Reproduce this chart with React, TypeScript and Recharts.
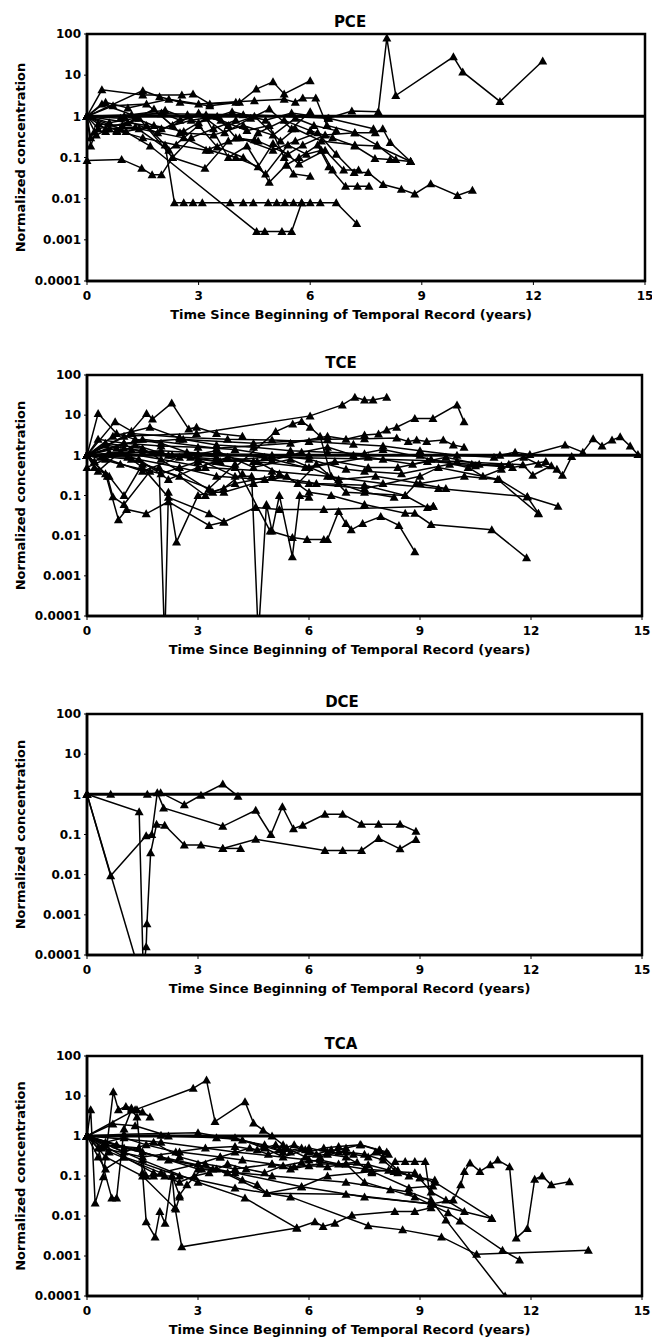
import React from "react";
import { LineChart, Line, XAxis, YAxis, ReferenceLine, ReferenceArea, Label } from "recharts";

type Pt = [number, number];

const xTicks = [0, 3, 6, 9, 12, 15];
const yTicks = [0.0001, 0.001, 0.01, 0.1, 1, 10, 100];
const xTitle = "Time Since Beginning of Temporal Record (years)";
const yTitle = "Normalized concentration";

// each record: [years since first sample, concentration / first concentration]
const pce: Pt[][] = [
  [[0, 1], [0.4, 4.4], [1.5, 3.3], [2.55, 3.3], [2.85, 3.5], [3.3, 2.0], [4.0, 2.2]],
  [[0, 1], [2.0, 1.15], [4.2, 1.1], [6.48, 0.9], [7.12, 1.35], [7.83, 1.3], [8.06, 80], [8.3, 3.2], [9.85, 28], [10.1, 12], [11.1, 2.3], [12.25, 22]],
  [[0, 1], [1.5, 4.2], [1.95, 3.0], [2.5, 2.2], [3.3, 1.8], [4.1, 2.2], [4.55, 4.6], [5.0, 6.9], [5.3, 3.5], [6.0, 7.3]],
  [[0, 1], [0.5, 2.2], [1.1, 1.6], [2.2, 2.6], [3.0, 2.0], [4.5, 2.4], [5.3, 2.6], [5.6, 2.2], [5.8, 2.8], [6.15, 2.8], [6.45, 0.6], [7.2, 0.4], [7.75, 0.4], [7.95, 0.5], [8.15, 0.23], [8.7, 0.08]],
  [[0, 1], [0.8, 0.45], [1.5, 0.3], [2.4, 0.2], [3.2, 0.15], [4.1, 0.3], [5.0, 0.15], [5.6, 0.25], [6.2, 0.4], [6.7, 0.12], [7.18, 0.043], [7.56, 0.043], [7.96, 0.022], [8.45, 0.017], [8.81, 0.013], [9.24, 0.023], [9.96, 0.012], [10.36, 0.016]],
  [[0, 1], [1.6, 0.6], [2.1, 0.2], [2.35, 0.008], [2.6, 0.008], [2.85, 0.008], [3.1, 0.008], [3.85, 0.008], [4.2, 0.008], [4.47, 0.008], [4.87, 0.008], [5.1, 0.008], [5.32, 0.008], [5.55, 0.008], [5.77, 0.008], [6.0, 0.008], [6.27, 0.008], [6.7, 0.008], [7.25, 0.0025]],
  [[0, 1], [0.9, 0.5], [1.7, 0.19], [4.56, 0.0016], [4.78, 0.0016], [5.24, 0.0016], [5.5, 0.0016], [5.77, 0.008]],
  [[0, 0.085], [0.93, 0.09], [1.47, 0.055], [1.75, 0.038], [2.0, 0.038], [2.3, 0.1], [2.8, 0.3], [3.4, 0.5], [4.0, 0.8]],
  [[0, 1], [0.1, 0.3], [0.2, 0.43], [0.5, 0.43], [0.8, 0.43], [1.05, 0.43], [1.8, 0.6], [2.6, 0.43], [3.2, 0.9], [3.8, 0.1], [4.3, 0.19], [4.9, 0.025], [5.35, 0.065], [5.7, 0.1], [6.2, 0.2], [6.5, 0.06], [6.95, 0.02], [7.27, 0.02], [7.58, 0.02]],
  [[0, 1], [0.1, 0.19], [0.3, 0.65], [0.95, 0.6], [1.4, 0.9], [2.3, 0.1], [3.17, 0.055], [3.8, 0.25], [4.5, 0.27], [4.6, 0.4], [5.3, 0.8], [6.0, 0.45], [6.6, 0.3], [7.2, 0.19], [7.74, 0.095], [8.15, 0.09], [8.7, 0.08]],
  [[0, 1], [0.6, 0.7], [1.3, 0.9], [2.0, 0.5], [2.8, 0.8], [3.5, 1.0], [4.0, 0.3], [4.6, 0.25], [5.4, 0.12], [5.8, 0.2], [6.4, 0.35], [7.2, 0.4], [7.8, 0.2], [8.3, 0.09]],
  [[0, 1], [0.5, 0.5], [1.3, 0.55], [2.2, 0.15], [3.0, 0.6], [3.5, 0.18], [4.2, 0.1], [4.8, 0.04], [5.4, 0.2], [5.9, 0.12], [6.3, 0.15], [6.6, 0.05]],
  [[0, 1], [0.25, 0.35], [0.6, 0.5], [1.4, 0.5], [2.6, 0.3], [3.3, 0.15], [4.0, 0.1], [4.6, 0.06], [5.0, 0.22], [5.7, 0.07], [6.4, 0.15], [6.9, 0.05], [7.3, 0.05]],
  [[0, 1], [1.0, 1.0], [2.0, 1.2], [2.5, 0.8], [3.2, 1.1], [3.8, 0.6], [4.5, 1.0], [5.2, 0.25], [5.6, 0.5], [6.3, 0.25], [7.2, 0.2], [7.8, 0.19], [8.7, 0.08]],
  [[0, 1], [0.7, 1.8], [1.6, 2.0], [2.3, 0.6], [3.0, 1.2], [3.7, 0.4], [4.4, 0.9], [4.9, 1.5], [5.5, 0.5], [6.0, 1.3]],
  [[0, 1], [0.3, 0.5], [1.1, 0.7], [1.8, 1.5], [2.5, 0.4], [3.4, 0.35], [4.2, 0.6], [5.0, 0.35], [5.6, 0.9], [6.1, 0.6], [6.7, 0.45]],
  [[0, 1], [0.9, 0.9], [1.9, 0.4], [2.7, 1.1], [3.6, 0.8], [4.3, 0.45], [4.9, 0.6], [5.3, 0.1], [5.55, 0.04], [6.0, 0.035]],
  [[0, 1], [0.4, 2.0], [1.2, 1.1], [2.1, 1.4], [3.0, 0.7], [3.9, 1.3], [4.8, 0.8], [5.5, 1.2], [6.5, 0.9], [7.7, 0.5]],
];

const tce: Pt[][] = [
  [[0, 1], [0.3, 11], [0.8, 3.5], [1.3, 2.5], [2.0, 2.0], [2.7, 1.2], [3.5, 0.9]],
  [[0, 1], [0.76, 6.9], [1.2, 4], [1.61, 11], [1.77, 8], [2.29, 20], [2.75, 4.5], [2.96, 5], [3.5, 3.5], [4.2, 3]],
  [[0, 1], [1.0, 3.0], [2.96, 3.5], [6.03, 9.6], [6.9, 18], [7.24, 28], [7.5, 24], [7.73, 24], [8.1, 28]],
  [[0, 1], [0.55, 0.3], [0.7, 0.093], [1.0, 0.06], [1.7, 0.4], [1.95, 0.5], [2.1, 0.00002], [2.2, 0.12], [2.42, 0.007], [3.0, 0.1], [3.7, 0.15], [4.2, 0.35]],
  [[0, 1], [0.5, 0.35], [0.85, 0.025], [1.07, 0.045], [1.6, 0.035], [2.2, 0.07], [3.3, 0.018], [3.7, 0.022], [4.55, 0.05], [5.2, 0.045], [6.4, 0.045], [9.36, 0.054]],
  [[0, 1], [0.8, 1.5], [1.5, 0.5], [2.2, 0.09], [3.3, 0.035], [3.7, 0.022]],
  [[0, 1], [1.5, 1.2], [3.0, 0.8], [4.0, 0.3], [4.45, 0.3], [4.63, 0.00003], [4.85, 0.06], [5.0, 0.013], [5.2, 0.1], [5.55, 0.003], [5.75, 0.1], [6.0, 0.09]],
  [[0, 1], [1.2, 0.8], [3.3, 0.15], [4.0, 0.6], [4.95, 0.013], [5.55, 0.009], [5.95, 0.008], [6.4, 0.008], [6.5, 0.008], [6.8, 0.04], [7.0, 0.02], [7.14, 0.014], [7.45, 0.02], [7.94, 0.03], [8.43, 0.018], [8.86, 0.004]],
  [[0, 1], [0.5, 2], [1.5, 1.5], [3.4, 0.12], [3.7, 0.12], [4.5, 0.2], [5.4, 0.3], [6.0, 0.12], [6.6, 0.1], [7.5, 0.06], [8.6, 0.036], [8.86, 0.036], [9.3, 0.019], [10.94, 0.014], [11.88, 0.0028]],
  [[0, 1], [1.1, 0.9], [2.5, 0.5], [3.5, 0.3], [4.8, 0.25], [6.0, 0.2], [7.5, 0.15], [9.0, 0.3], [9.5, 0.5], [11.14, 0.25], [11.9, 0.093], [12.73, 0.054]],
  [[0, 1], [0.9, 1.2], [2.0, 0.8], [3.2, 0.5], [5.0, 0.4], [6.5, 0.3], [8.0, 0.2], [9.5, 0.15], [11.9, 0.093], [12.2, 0.036]],
  [[0, 1], [3.0, 1.1], [6.0, 1.0], [9.0, 1.0], [11.16, 1.0], [11.57, 1.2], [11.97, 1.05], [12.92, 1.8], [13.4, 1.2], [13.68, 2.6], [13.92, 1.7], [14.19, 2.4], [14.41, 2.9], [14.68, 1.7], [14.89, 1.05]],
  [[0, 1], [2.0, 1.3], [5.0, 0.9], [8.0, 0.8], [10.0, 0.7], [11.78, 0.58], [12.05, 0.32], [12.55, 0.55], [12.85, 0.32], [13.1, 0.93]],
  [[0, 1], [1.5, 2.5], [3.5, 1.5], [5.5, 2.0], [6.5, 3], [7.0, 2.5], [7.5, 3.2], [7.88, 3.4], [8.1, 4.3], [8.37, 5], [8.86, 8.3], [9.35, 8.3], [10.0, 18], [10.19, 6.9]],
  [[0, 1], [1.0, 2.0], [2.5, 2.5], [4.5, 2.0], [6.5, 2.5], [7.5, 2.6], [8.37, 2.7], [8.68, 2.2], [8.91, 2.4], [9.18, 2.2], [9.63, 2.4], [9.9, 1.8], [10.19, 1.6]],
  [[0, 1], [0.3, 0.4], [1.0, 1.5], [2.8, 0.9], [4.5, 0.7], [6.0, 0.5], [7.6, 0.9], [8.8, 0.6], [9.7, 0.9], [10.6, 0.6], [11.2, 0.55], [11.8, 0.9], [12.2, 0.6], [12.7, 0.45]],
  [[0, 1], [0.2, 0.5], [0.6, 0.3], [1.0, 0.1], [1.5, 0.6], [2.5, 0.3], [3.2, 0.1], [4.0, 0.2], [5.0, 0.3], [6.2, 0.2], [7.5, 0.18], [8.6, 0.1], [8.9, 0.2], [9.7, 0.15]],
  [[0, 1], [0.5, 1.8], [1.2, 1.4], [2.3, 1.0], [3.6, 0.7], [5.0, 0.75], [5.8, 1.2], [6.5, 1.6], [7.2, 1.0], [8.0, 1.4], [9.3, 0.8], [10.3, 0.5], [10.7, 0.3], [11.2, 0.45]],
  [[0, 1], [0.9, 0.6], [2.0, 0.35], [3.0, 0.7], [4.0, 0.5], [5.1, 3.9], [5.56, 6], [5.8, 7], [6.03, 5], [6.3, 3], [6.6, 0.3], [7.0, 0.12], [8.6, 0.1], [9.2, 0.05], [9.36, 0.054]],
  [[0, 1], [1.2, 3.5], [2.5, 2.8], [3.8, 2.5], [5.0, 2.4], [6.0, 2.2], [7.2, 1.9], [8.0, 1.7], [9.0, 1.3], [10.0, 1.0], [11.0, 0.9]],
  [[0, 1], [0.4, 0.9], [1.5, 0.4], [2.5, 0.9], [3.5, 1.3], [4.5, 0.5], [5.5, 0.8], [6.8, 0.25], [7.8, 0.3], [9.0, 0.2], [10.2, 0.3], [11.1, 0.25], [12.2, 0.035]],
  [[0, 1], [0.7, 3.0], [1.7, 5], [2.6, 2.5], [3.5, 1.8], [4.5, 1.6], [5.5, 1.3], [6.5, 1.2], [7.5, 1.1]],
  [[0, 1], [0.2, 0.7], [0.6, 1.2], [1.4, 0.8], [2.2, 0.25], [3.0, 0.5], [3.8, 0.9], [4.6, 0.7], [5.2, 0.35], [5.7, 0.2], [6.2, 0.6], [6.8, 0.2], [7.5, 0.12], [8.3, 0.09]],
  [[0, 1], [0.3, 2.5], [1.0, 2.0], [2.0, 1.7], [3.0, 1.6], [4.0, 1.4], [5.0, 1.0], [6.0, 0.8], [7.0, 0.45], [7.5, 0.4], [8.5, 0.35], [9.8, 0.6], [10.5, 0.55], [11.4, 0.6]],
  [[0, 0.5], [0.5, 0.8], [1.3, 1.8], [2.2, 1.0], [3.5, 0.7], [4.8, 0.9], [5.9, 0.5], [6.7, 0.7], [7.6, 0.5], [8.4, 0.5], [9.2, 0.7], [10.4, 0.6], [11.5, 0.5], [12.4, 0.7]],
];

const dce: Pt[][] = [
  [[0, 1], [0.64, 1], [1.63, 1], [1.99, 1.1], [2.63, 0.55], [3.08, 0.95], [3.67, 1.8], [4.08, 0.9]],
  [[0, 1], [1.41, 0.37], [1.52, 0.00004], [1.6, 0.00016], [1.62, 0.0006], [1.72, 0.035], [1.88, 0.18], [2.1, 0.17], [2.63, 0.055], [3.08, 0.055], [3.67, 0.045], [4.56, 0.076], [6.43, 0.04], [6.91, 0.04], [7.42, 0.04], [7.88, 0.08], [8.46, 0.044], [8.89, 0.075]],
  [[0, 1], [0.64, 0.0094], [1.6, 0.093], [1.75, 0.1], [1.9, 1.1], [2.07, 0.46], [3.67, 0.16], [4.56, 0.4], [4.97, 0.1], [5.28, 0.49], [5.58, 0.14], [5.83, 0.17], [6.43, 0.32], [6.91, 0.32], [7.42, 0.18], [7.88, 0.18], [8.46, 0.18], [8.89, 0.12]],
  [[3.67, 0.045], [4.15, 0.045]],
  [[0, 1], [1.45, 0.00003]],
];

const tca: Pt[][] = [
  [[0, 1], [1.3, 4.5], [2.87, 15.6], [3.23, 25], [3.46, 2.3], [4.27, 7.2], [4.5, 2.1], [4.76, 1.4], [5.0, 1.0], [5.3, 0.6]],
  [[0, 1], [0.1, 4.5], [0.22, 0.021], [0.44, 0.096], [0.71, 12.8], [0.85, 4.5], [1.05, 5.5], [1.2, 5], [1.35, 4.5], [1.5, 4], [1.7, 3]],
  [[0, 1], [0.3, 0.5], [0.67, 0.028], [0.8, 0.028], [1.0, 1.5], [1.2, 4.5], [1.35, 3], [1.5, 0.12], [1.6, 0.0072], [1.84, 0.003], [1.97, 0.013], [2.11, 0.0066], [2.3, 0.1], [2.38, 0.016], [2.56, 0.0017], [5.67, 0.005], [6.16, 0.0072], [6.38, 0.0055], [6.7, 0.0066], [7.16, 0.0105], [8.32, 0.013], [8.86, 0.013], [9.3, 0.016]],
  [[0, 1], [0.5, 0.6], [1.4, 0.5], [1.6, 0.1], [1.8, 0.1], [2.1, 0.1], [2.3, 0.1], [2.5, 0.033], [2.7, 0.06], [3.1, 0.15], [3.4, 0.15], [3.8, 0.12], [4.2, 0.08], [4.6, 0.06], [4.86, 0.037], [5.8, 0.054], [6.5, 0.1], [7.7, 0.13], [8.15, 0.14], [8.33, 0.23], [8.6, 0.23], [8.86, 0.23], [9.14, 0.23], [9.3, 0.02], [9.9, 0.025], [10.1, 0.06], [10.2, 0.13], [10.35, 0.21], [10.62, 0.13], [10.9, 0.19], [11.1, 0.25], [11.42, 0.17], [11.6, 0.0028], [11.9, 0.0049], [12.1, 0.083], [12.3, 0.1], [12.55, 0.06], [13.04, 0.072]],
  [[0, 1], [1.0, 1.1], [3.0, 1.2], [4.8, 0.6], [5.2, 0.45], [5.6, 0.6], [6.0, 0.4], [6.4, 0.5], [6.8, 0.55], [7.38, 0.6], [7.92, 0.43], [8.15, 0.35]],
  [[0, 1], [2.0, 1.05], [4.0, 0.9], [4.8, 0.5], [5.3, 0.3], [5.9, 0.45], [6.3, 0.3], [6.8, 0.4], [7.2, 0.35], [7.6, 0.3], [7.8, 0.4], [8.0, 0.3], [8.4, 0.14], [8.7, 0.1]],
  [[0, 1], [0.4, 0.5], [1.5, 0.3], [2.5, 0.4], [3.6, 0.3], [4.4, 0.5], [4.9, 0.35], [5.4, 0.5], [5.9, 0.3], [6.5, 0.35], [7.0, 0.3], [7.7, 0.13], [8.7, 0.05], [9.35, 0.056]],
  [[0, 1], [0.6, 0.4], [2.0, 0.12], [3.0, 0.2], [3.6, 0.3], [4.2, 0.25], [5.0, 0.2], [5.6, 0.17], [6.3, 0.2], [7.0, 0.2], [7.5, 0.07], [8.2, 0.045], [8.86, 0.03], [9.76, 0.012], [10.08, 0.0075], [11.23, 0.0014], [11.69, 0.0008]],
  [[0, 1], [0.5, 0.3], [1.5, 0.1], [2.4, 0.015], [2.5, 0.03]],
  [[0, 1], [1.5, 0.25], [3.0, 0.07], [4.27, 0.028], [5.67, 0.005]],
  [[0, 1], [1.0, 0.5], [2.0, 0.3], [3.5, 0.15], [4.86, 0.037], [7.0, 0.035], [9.3, 0.02]],
  [[0, 1], [0.8, 0.6], [2.2, 0.25], [4.0, 0.12], [5.8, 0.054], [7.5, 0.03], [9.35, 0.02], [10.94, 0.0087]],
  [[0, 1], [1.5, 0.4], [3.0, 0.15], [5.0, 0.1], [7.0, 0.07], [8.7, 0.04], [9.3, 0.025], [9.7, 0.008], [11.3, 0.0001]],
  [[0, 1], [1.0, 0.3], [2.5, 0.1], [4.0, 0.05], [5.5, 0.03], [7.6, 0.0057], [8.53, 0.0045], [9.58, 0.003], [10.53, 0.0011], [13.55, 0.0014]],
  [[0, 1], [2.0, 0.7], [4.0, 0.4], [6.0, 0.25], [7.5, 0.15], [8.3, 0.13], [9.0, 0.09], [9.4, 0.07], [10.94, 0.0087]],
  [[0, 1], [0.7, 2.0], [1.3, 1.8], [2.2, 1.0], [3.5, 0.9], [4.2, 0.8], [4.8, 0.55], [5.3, 0.4], [5.8, 0.5], [6.2, 0.35], [6.6, 0.45], [7.0, 0.4], [7.5, 0.35], [8.0, 0.25], [8.4, 0.12], [9.0, 0.09], [9.4, 0.08]],
  [[0, 1], [0.5, 0.7], [1.0, 0.9], [1.6, 0.6], [2.4, 0.4], [3.2, 0.5], [4.0, 0.55], [4.6, 0.45], [5.1, 0.6], [5.5, 0.4], [6.0, 0.5], [6.5, 0.4], [7.0, 0.5], [7.4, 0.6], [7.9, 0.45], [8.1, 0.4]],
  [[0, 1], [1.0, 0.4], [1.8, 0.7], [2.5, 0.3], [3.2, 0.2], [4.0, 0.15], [5.0, 0.2], [5.5, 0.15], [6.0, 0.18], [6.5, 0.17], [7.0, 0.2], [7.6, 0.19], [8.3, 0.13], [8.86, 0.12], [9.3, 0.04], [9.7, 0.025], [10.2, 0.013]],
  [[0, 1], [0.3, 0.3], [0.5, 0.15], [1.0, 0.3], [1.8, 0.12], [2.5, 0.07], [2.9, 0.1], [3.3, 0.12], [3.8, 0.2], [4.3, 0.15], [4.8, 0.12], [5.3, 0.18], [5.8, 0.22], [6.3, 0.25], [6.8, 0.2], [7.3, 0.22], [7.7, 0.12]],
];

const panels = [
  { title: "PCE", series: pce, height: 340, top: 34, plotH: 247, right: 7, titleX: 350 },
  { title: "TCE", series: tce, height: 340, top: 35, plotH: 241, right: 10, titleX: 341 },
  { title: "DCE", series: dce, height: 340, top: 34, plotH: 241, right: 10, titleX: 342 },
  { title: "TCA", series: tca, height: 323, top: 36, plotH: 240, right: 10, titleX: 341 },
];

const FONT = "'DejaVu Sans', sans-serif";

const Triangle = (p: any) => {
  const { cx, cy, index } = p;
  if (cx == null || cy == null) return <g key={index} />;
  return (
    <polygon
      key={index}
      points={`${cx},${cy - 4.5} ${cx - 4.5},${cy + 3.5} ${cx + 4.5},${cy + 3.5}`}
      fill="#000"
    />
  );
};

function Panel({ title, series, height, top, plotH, right, titleX }: any) {
  const width = 652;
  const axisW = 87;
  const plotW = width - axisW - right;
  const xAxisH = height - top - plotH;
  const midX = axisW + plotW / 2 - 15;
  return (
    <div style={{ position: "relative", width, height }}>
      <div
        style={{
          position: "absolute",
          left: titleX - 50,
          width: 100,
          top: top - 21,
          textAlign: "center",
          fontFamily: FONT,
          fontWeight: "bold",
          fontSize: 15,
          lineHeight: "18px",
        }}
      >
        {title}
      </div>
      <LineChart width={width} height={height} margin={{ top, right, left: 0, bottom: 0 }}>
        <XAxis
          type="number"
          dataKey="t"
          domain={[0, 15]}
          ticks={xTicks}
          height={xAxisH}
          axisLine={{ stroke: "#000", strokeWidth: 2.5 }}
          tickLine={{ stroke: "#000" }}
          tickSize={4}
          tickMargin={6}
          tick={{ fill: "#000", fontSize: 12, fontWeight: "bold", fontFamily: FONT }}
        >
          <Label
            content={() => (
              <text
                x={midX}
                y={top + plotH + 33 + 4.7}
                textAnchor="middle"
                fill="#000"
                fontSize={13}
                fontWeight="bold"
                fontFamily={FONT}
              >
                {xTitle}
              </text>
            )}
          />
        </XAxis>
        <YAxis
          scale="log"
          domain={[0.0001, 100]}
          allowDataOverflow
          ticks={yTicks}
          width={axisW}
          tickFormatter={(v: number) => String(v)}
          axisLine={{ stroke: "#000", strokeWidth: 2.5 }}
          tickLine={{ stroke: "#000" }}
          tickSize={3}
          tickMargin={3}
          tick={{ fill: "#000", fontSize: 12, fontWeight: "bold", fontFamily: FONT }}
        >
          <Label
            content={() => {
              const cy = top + plotH / 2;
              return (
                <text
                  x={20}
                  y={cy}
                  dy="0.36em"
                  transform={`rotate(-90, 20, ${cy})`}
                  textAnchor="middle"
                  fill="#000"
                  fontSize={13}
                  fontWeight="bold"
                  fontFamily={FONT}
                >
                  {yTitle}
                </text>
              );
            }}
          />
        </YAxis>
        <ReferenceArea
          x1={0}
          x2={15}
          y1={0.0001}
          y2={100}
          fill="none"
          stroke="#000"
          strokeWidth={2.5}
          ifOverflow="visible"
        />
        <ReferenceLine y={1} stroke="#000" strokeWidth={3} />
        {series.map((s: Pt[], i: number) => (
          <Line
            key={`${title}-${i}`}
            name={`${title}-${i}`}
            data={s.map(([t, v]) => ({ t, v }))}
            dataKey="v"
            type="linear"
            stroke="#000"
            strokeWidth={1.5}
            dot={Triangle}
            activeDot={false}
            isAnimationActive={false}
          />
        ))}
      </LineChart>
    </div>
  );
}

export default function App() {
  return (
    <div style={{ position: "absolute", left: 0, top: 0, width: 652, height: 1343, background: "#fff" }}>
      {panels.map((p) => (
        <Panel key={p.title} {...p} />
      ))}
    </div>
  );
}
